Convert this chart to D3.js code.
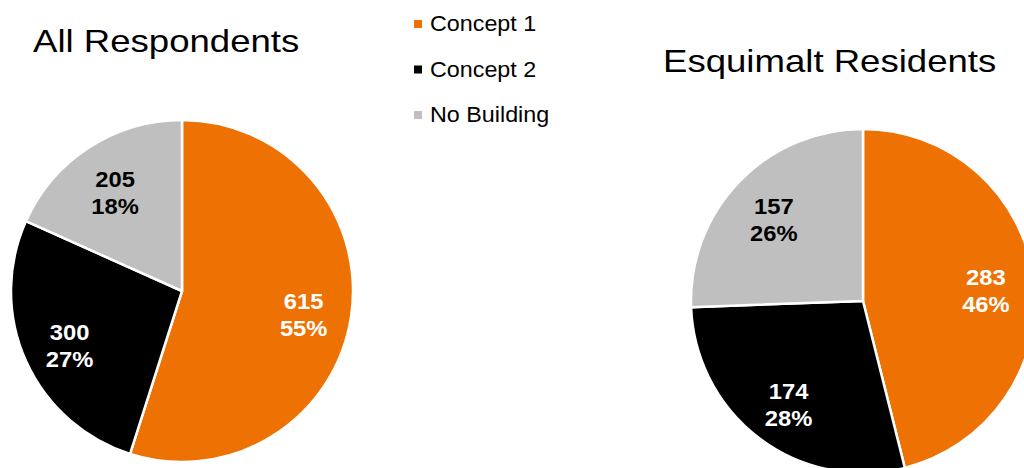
<!DOCTYPE html>
<html>
<head>
<meta charset="utf-8">
<script src="https://cdn.jsdelivr.net/npm/d3@7"></script>
<style>
  body { margin: 0; background: #fff; }
  svg { display: block; font-family: "Liberation Sans", Arial, sans-serif; }
</style>
</head>
<body>
<svg width="1024" height="468"></svg>
<script>
var categories = ['Concept 1', 'Concept 2', 'No Building'];
var colors = ['#ee7203', '#000000', '#bfbfbf'];
var labelColors = ['#ffffff', '#ffffff', '#000000'];
var titles = ['All Respondents', 'Esquimalt Residents'];
var allValues = [615, 300, 205];
var esquimaltValues = [283, 174, 157];

var svg = d3.select('svg'),
    width = 1024,
    height = 468;

var color = d3.scaleOrdinal().domain(categories).range(colors);
var labelColor = d3.scaleOrdinal().domain(categories).range(labelColors);

var pie = d3.pie().sort(null).value(function (d) { return d.value; });

// two pies: layout spots
var charts = [
    { title: titles[0], values: allValues, cx: 182, cy: 291, r: 171, tx: 33, ty: 52 },
    { title: titles[1], values: esquimaltValues, cx: 863, cy: 301, r: 172, tx: 663, ty: 72 }
];

charts.forEach(function (c) {
    var data = categories.map(function (k, i) { return { key: k, value: c.values[i] }; });
    var total = d3.sum(data, function (d) { return d.value; });
    var arcs = pie(data);
    var arc = d3.arc().innerRadius(0).outerRadius(c.r);
    var labelArc = d3.arc().innerRadius(c.r * 0.72).outerRadius(c.r * 0.72);

    var g = svg.append('g').attr('transform', 'translate(' + c.cx + ',' + c.cy + ')');

    g.selectAll('path')
        .data(arcs)
        .enter().append('path')
        .attr('d', arc)
        .attr('fill', function (d) { return color(d.data.key); })
        .attr('stroke', '#fff')
        .attr('stroke-width', 2.5)
        .attr('stroke-linejoin', 'round');

    var lbl = g.selectAll('text.lbl')
        .data(arcs)
        .enter().append('text')
        .attr('class', 'lbl')
        .attr('transform', function (d) {
            var p = labelArc.centroid(d);
            return 'translate(' + p[0] + ',' + p[1] + ') scale(1.08,1)';
        })
        .attr('text-anchor', 'middle')
        .attr('font-size', 22)
        .attr('font-weight', 'bold')
        .attr('fill', function (d) { return labelColor(d.data.key); });

    lbl.append('tspan').attr('x', 0).attr('y', -1).text(function (d) { return d.data.value; });
    lbl.append('tspan').attr('x', 0).attr('y', 26)
        .text(function (d) { return Math.round(d.data.value / total * 100) + '%'; });

    svg.append('text')
        .attr('transform', 'translate(' + c.tx + ',' + c.ty + ') scale(1.18,1)')
        .attr('font-size', 31)
        .attr('fill', '#000')
        .text(c.title);
});

// legend
var legend = svg.append('g').attr('transform', 'translate(414,0)');
var item = legend.selectAll('g')
    .data(categories)
    .enter().append('g')
    .attr('transform', function (d, i) { return 'translate(0,' + (31 + i * 45.5) + ')'; });

item.append('rect')
    .attr('x', 0).attr('y', -11)
    .attr('width', 8).attr('height', 8)
    .attr('fill', function (d) { return color(d); });

item.append('text')
    .attr('transform', 'translate(16,0) scale(1.06,1)')
    .attr('font-size', 22)
    .attr('fill', '#000')
    .text(function (d) { return d; });
</script>
</body>
</html>
